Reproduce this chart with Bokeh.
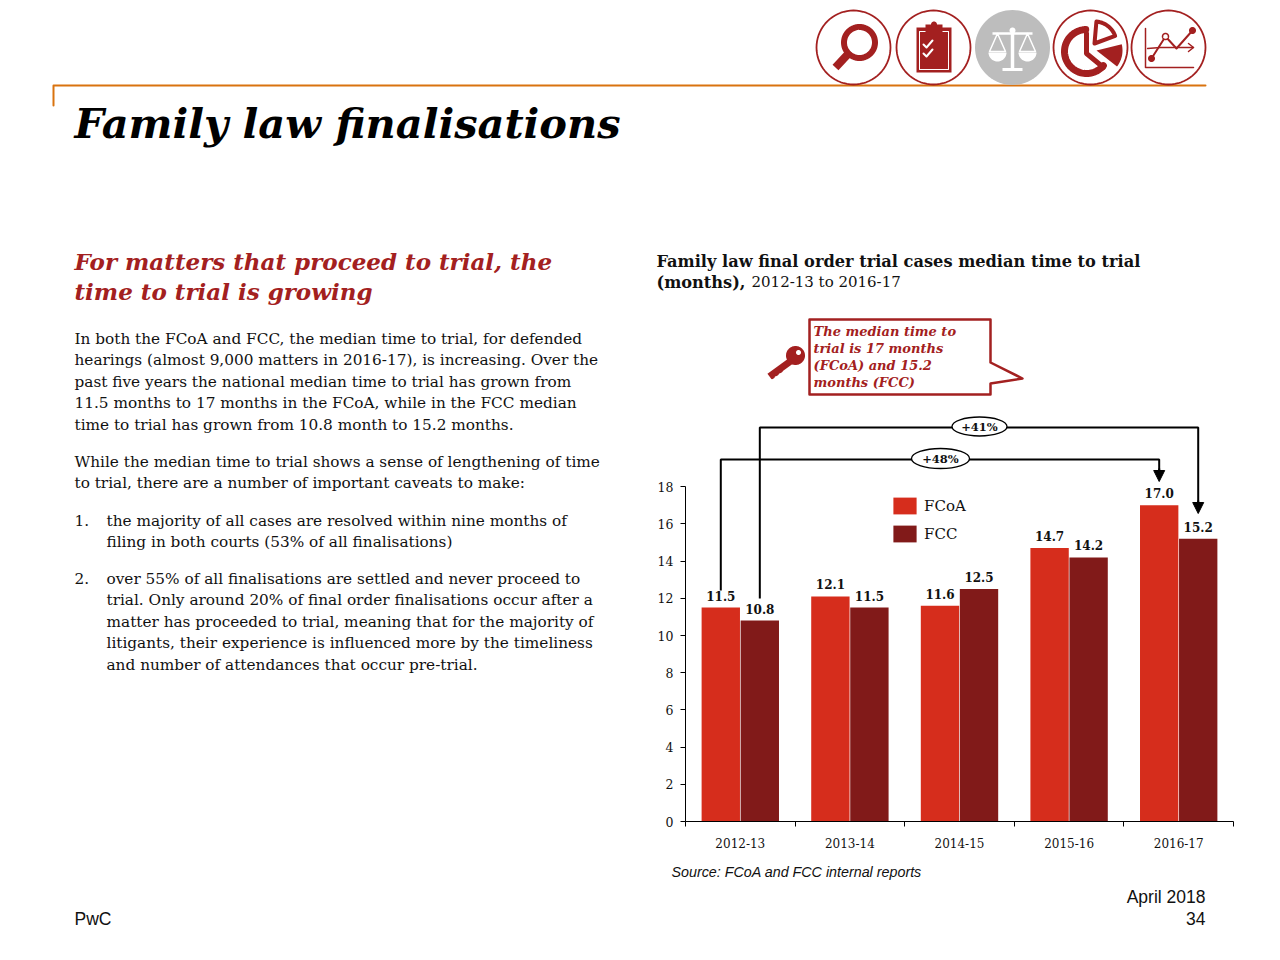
import math
from bokeh.plotting import figure
from bokeh.models import Label, PolyAnnotation, Legend, LegendItem, FixedTicker, Arrow, NormalHead, ColumnDataSource, Range1d
from bokeh.core.properties import value
from bokeh.embed import file_html
from bokeh.resources import INLINE

# ---- chart data
years = ["2012-13", "2013-14", "2014-15", "2015-16", "2016-17"]
fcoa = [11.5, 12.1, 11.6, 14.7, 17.0]
fcc = [10.8, 11.5, 12.5, 14.2, 15.2]
y_ticks = [0, 2, 4, 6, 8, 10, 12, 14, 16, 18]
growth = ["+48%", "+41%"]

# ---- page text
title = "Family law finalisations"
subtitle = ["For matters that proceed to trial, the", "time to trial is growing"]
para1 = ["In both the FCoA and FCC, the median time to trial, for defended",
         "hearings (almost 9,000 matters in 2016-17), is increasing. Over the",
         "past five years the national median time to trial has grown from",
         "11.5 months to 17 months in the FCoA, while in the FCC median",
         "time to trial has grown from 10.8 month to 15.2 months."]
para2 = ["While the median time to trial shows a sense of lengthening of time",
         "to trial, there are a number of important caveats to make:"]
item1 = ["the majority of all cases are resolved within nine months of",
         "filing in both courts (53% of all finalisations)"]
item2 = ["over 55% of all finalisations are settled and never proceed to",
         "trial. Only around 20% of final order finalisations occur after a",
         "matter has proceeded to trial, meaning that for the majority of",
         "litigants, their experience is influenced more by the timeliness",
         "and number of attendances that occur pre-trial."]
callout = ["The median time to", "trial is 17 months", "(FCoA) and 15.2", "months (FCC)"]

RED = "#A32020"
FCOA_C = "#D62D1C"
FCC_C = "#811A19"
ORANGE = "#D9730F"
GREY = "#BDBDBD"
SERIF = "DejaVu Serif"
SANS = "Liberation Sans"

# the frame fills the page; axes sit at a fixed place inside it
X0, Y0 = 685, 821
PXX, PXM = 109.6, 18.6
W, H = 1264, 944
p = figure(width=W, height=H, output_backend="svg", toolbar_location=None,
           x_range=Range1d(-X0 / PXX, (W - X0) / PXX), y_range=Range1d((Y0 - H) / PXM, Y0 / PXM),
           min_border=0, outline_line_color=None, background_fill_color="white", border_fill_color="white")
p.grid.visible = False

ax = p.xaxis[0]
ax.fixed_location = 0
ax.bounds = (0, len(years))
ax.ticker = FixedTicker(ticks=[i + 0.5 for i in range(len(years))], minor_ticks=list(range(len(years) + 1)))
ax.major_label_overrides = {i + 0.5: y for i, y in enumerate(years)}
ax.major_tick_out = 0
ax.major_tick_in = 0
ax.minor_tick_out = 5
ax.minor_tick_in = 0
ax.minor_tick_line_color = "black"
ax.axis_line_color = "black"
ax.major_label_standoff = 11
ax.major_label_text_font = SERIF
ax.major_label_text_font_size = "12px"
ax.major_label_text_color = "#111111"

ay = p.yaxis[0]
ay.fixed_location = 0
ay.ticker = FixedTicker(ticks=y_ticks, minor_ticks=[])
ay.bounds = (0, 18)
ay.major_tick_out = 5
ay.major_tick_in = 0
ay.major_tick_line_color = "black"
ay.axis_line_color = "black"
ay.major_label_standoff = 7
ay.major_label_text_font = SERIF
ay.major_label_text_font_size = "12.5px"
ay.major_label_text_color = "#111111"

DODGE = 0.178
BW = 0.35
x1 = [i + 0.5 - DODGE for i in range(len(years))]
x2 = [i + 0.5 + DODGE for i in range(len(years))]
s1 = ColumnDataSource(dict(x=x1, v=fcoa, t=[f"{v:.1f}" for v in fcoa]))
s2 = ColumnDataSource(dict(x=x2, v=fcc, t=[f"{v:.1f}" for v in fcc]))
r1 = p.vbar(x="x", top="v", width=BW, bottom=0, source=s1, fill_color=FCOA_C, line_color=None)
r2 = p.vbar(x="x", top="v", width=BW, bottom=0, source=s2, fill_color=FCC_C, line_color=None)
for s in (s1, s2):
    p.text(x="x", y="v", text="t", source=s, text_align="center", text_baseline="bottom", y_offset=-7,
           text_font=value(SERIF), text_font_style="bold", text_font_size="12px", text_color="#111111")

leg = Legend(items=[LegendItem(label="FCoA", renderers=[r1]), LegendItem(label="FCC", renderers=[r2])],
             location=(890, H - 544), orientation="vertical", border_line_color=None,
             background_fill_alpha=0, padding=0, margin=0, spacing=7, glyph_width=29, glyph_height=21,
             label_standoff=5, label_text_font=SERIF, label_text_font_size="15px", label_height=21,
             label_text_color="#111111")
p.add_layout(leg)

# growth connectors, in chart coordinates
Yp = lambda py: (Y0 - py) / PXM
p.line([x1[0], x1[0], x1[-1], x1[-1]], [Yp(590), Yp(459), Yp(459), Yp(470)], line_color="black", line_width=2)
p.line([x2[0], x2[0], x2[-1], x2[-1]], [Yp(598), Yp(427), Yp(427), Yp(503)], line_color="black", line_width=2)
head = lambda: NormalHead(size=11, fill_color="black", line_color="black")
p.add_layout(Arrow(end=head(), x_start=x1[-1], y_start=Yp(468), x_end=x1[-1], y_end=Yp(481), line_color="black", line_width=2))
p.add_layout(Arrow(end=head(), x_start=x2[-1], y_start=Yp(500), x_end=x2[-1], y_end=Yp(513), line_color="black", line_width=2))
ex = [(940 - X0) / PXX, (979 - X0) / PXX]
ey = [Yp(458), Yp(426)]
ew = [58, 55]
eh = [20, 19]
p.ellipse(x=ex, y=ey, width=ew, height=eh, width_units="screen", height_units="screen",
          fill_color="white", line_color="black", line_width=1.3)
p.text(x=ex, y=ey, text=growth, text_align="center", text_baseline="middle",
       text_font=value(SERIF), text_font_style="bold", text_font_size="11.5px", text_color="#111111")


# ---- page furniture, positioned in page pixels
def T(x, y, s, size, font=SERIF, style="normal", color="#111111", align="left"):
    p.add_layout(Label(x=x - 1, y=y, x_units="canvas", y_units="canvas", text=s, text_font=font,
                       text_font_size=f"{size}px", text_font_style=style, text_color=color,
                       text_align=align, text_baseline="alphabetic"))


def shape(pts, fill=None, line=None, w=1.0):
    p.add_layout(PolyAnnotation(xs=[a for a, _ in pts], ys=[b for _, b in pts],
                                xs_units="canvas", ys_units="canvas",
                                fill_color=fill if fill else "white", fill_alpha=1 if fill else 0,
                                line_color=line if line else "white", line_alpha=1 if line else 0,
                                line_width=w, line_join="round"))


def stroke(pts, color, w):
    shape(pts + pts[-2:0:-1], None, color, w)


def circ(cx, cy, r, n=72, a0=0.0, a1=360.0):
    return [(cx + r * math.cos(math.radians(a0 + (a1 - a0) * i / n)),
             cy + r * math.sin(math.radians(a0 + (a1 - a0) * i / n))) for i in range(n + (0 if a1 - a0 == 360 else 1))]


T(75, 123, title, 41.5, style="bold italic", color="black")
for i, s in enumerate(subtitle):
    T(75, 261 + 30 * i, s, 23, style="bold italic", color=RED)
T(657, 260.5, "Family law final order trial cases median time to trial", 16.2, style="bold")
T(657, 281.5, "(months),", 16.2, style="bold")
T(752, 281.5, "2012-13 to 2016-17", 15)
for i, s in enumerate(para1):
    T(75, 338 + 21.5 * i, s, 15.3)
for i, s in enumerate(para2):
    T(75, 461 + 21.5 * i, s, 15.3)
T(75, 520, "1.", 15.3)
for i, s in enumerate(item1):
    T(107, 520 + 21.5 * i, s, 15.3)
T(75, 578, "2.", 15.3)
for i, s in enumerate(item2):
    T(107, 578 + 21.5 * i, s, 15.3)
T(672, 871, "Source: FCoA and FCC internal reports", 14.3, font=SANS, style="italic")
T(75, 918, "PwC", 17.5, font=SANS)
T(1206, 896, "April 2018", 17.5, font=SANS, align="right")
T(1206, 918, "34", 17.5, font=SANS, align="right")

# orange rule
stroke([(53, 105), (53, 85), (1205, 85)], ORANGE, 2)

# callout
shape([(809, 319), (990, 319), (990, 362), (1022, 378), (990, 383), (990, 394), (809, 394)], "white", RED, 2.5)
for i, s in enumerate(callout):
    T(814, 331 + 17 * i, s, 13, style="bold italic", color=RED)

# key icon
shape(circ(795, 355, 9.5), RED)
shape(circ(798, 352, 2.5), "white")
stroke([(791, 360), (769, 376)], RED, 7)
for a, b in ((781, 372), (777, 375), (773, 378)):
    stroke([(a, b), (a - 2, b - 3)], RED, 3)

# icon roundels
for cx in (853, 933, 1090, 1168):
    shape(circ(cx, 47, 37), "white", RED, 1.8)
shape(circ(1012, 47, 37.5), GREY)

# magnifier
shape(circ(859, 42, 15.5), None, RED, 6)
stroke([(850, 38), (853, 33), (858, 30)], "white", 1.6)
stroke([(848, 53), (835, 67)], RED, 8)

# clipboard
shape([(916, 27), (951, 27), (951, 72), (916, 72)], RED)
stroke([(919, 31), (948, 31), (948, 69), (919, 69), (919, 31)], "white", 1)
shape([(925, 24), (942, 24), (942, 32), (925, 32)], RED)
shape(circ(933.5, 24, 3), RED)
stroke([(923, 44), (926, 47), (932, 40)], "white", 2)
stroke([(923, 53), (926, 56), (932, 49)], "white", 2)

# scales
stroke([(1012, 28), (1012, 68)], "white", 3.5)
stroke([(1002, 69), (1022, 69)], "white", 3)
stroke([(992, 33), (1032, 33)], "white", 2.5)
shape(circ(1012, 30, 3), "white")
for c in (997, 1027):
    stroke([(c, 33), (c - 8, 51), (c + 8, 51), (c, 33)], "white", 1.5)
    shape(circ(c, 52, 9, n=24, a0=0, a1=180), "white")

# pie
stroke(circ(1086, 51, 22, n=60, a0=40, a1=268), RED, 7)
stroke([(1086, 33), (1086, 53), (1103, 67)], RED, 5)
shape([(1094, 43)] + circ(1094, 43, 22, n=16, a0=-85, a1=-20), "white", RED, 4)
shape([(1096, 50)] + circ(1096, 50, 26, n=14, a0=-14, a1=38), RED)

# trend chart
stroke([(1145, 28), (1145, 67), (1193, 67)], RED, 1.5)
stroke([(1151, 58), (1165, 36), (1176, 48), (1192, 30)], RED, 2)
stroke([(1147, 48), (1160, 47), (1175, 47), (1193, 47)], RED, 1.3)
stroke([(1188, 43), (1193, 47), (1188, 51)], RED, 1.5)
shape(circ(1151, 58, 3.5), RED)
shape(circ(1192, 30, 3.5), RED)
shape(circ(1165, 36, 3), "white", RED, 1.5)

open("out.html", "w").write(file_html(p, INLINE))
